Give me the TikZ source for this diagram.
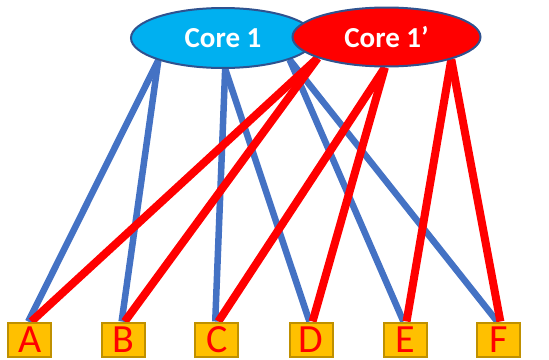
\documentclass[tikz,border=0pt]{standalone}
\usepackage{fontspec}
\setmainfont{Carlito}
\usetikzlibrary{shapes.geometric}
\pgfdeclarelayer{links}
\pgfsetlayers{links,main}
\definecolor{linkblue}{HTML}{4472C4}
\definecolor{linkred}{HTML}{FF0000}
\definecolor{corecyan}{HTML}{00B0F0}
\definecolor{coreedge}{HTML}{2F528F}
\definecolor{boxfill}{HTML}{FFC000}
\definecolor{boxedge}{HTML}{BF9000}
\tikzset{
  core/.style={ellipse, draw=coreedge, line width=2pt, inner sep=0pt,
    text=white, font=\fontsize{29}{29}\selectfont\bfseries},
  leaf/.style={rectangle, draw=boxedge, fill=boxfill, line width=2pt, inner sep=0pt,
    minimum width=43pt, minimum height=34pt, text=linkred,
    font=\fontsize{40}{40}\selectfont},
  bluelink/.style={draw=linkblue, line width=6.5pt},
  redlink/.style={draw=linkred, line width=8pt}
}
\begin{document}
\begin{tikzpicture}[x=1pt,y=-1pt]
\useasboundingbox (0,0) rectangle (549,359);
% the two cores
\node[core, fill=corecyan, minimum width=184pt, minimum height=60pt] (c1) at (223,38) {Core 1};
\node[core, fill=linkred, minimum width=188pt, minimum height=59pt] (c2) at (386.5,37) {Core 1’};
% leaves
\foreach \n/\x in {A/29.8,B/123.2,C/216.8,D/311,E/405,F/498.8}
  \node[leaf] (\n) at (\x,339.5) {\n};
\begin{pgfonlayer}{links}
% links of Core 1
\draw[bluelink] (c1.199) -- (A.95);
\draw[bluelink] (c1.199) -- (B.95);
\draw[bluelink] (c1.274) -- (C.95);
\draw[bluelink] (c1.274) -- (D.95);
\draw[bluelink] (c1.342) -- (E.95);
\draw[bluelink] (c1.342) -- (F.95);
% links of Core 1'
\draw[redlink] (c2.197) -- (A.85);
\draw[redlink] (c2.197) -- (B.85);
\draw[redlink] (c2.267) -- (C.85);
\draw[redlink] (c2.267) -- (D.85);
\draw[redlink] (c2.341) -- (E.85);
\draw[redlink] (c2.341) -- (F.85);
\end{pgfonlayer}
\end{tikzpicture}
\end{document}
